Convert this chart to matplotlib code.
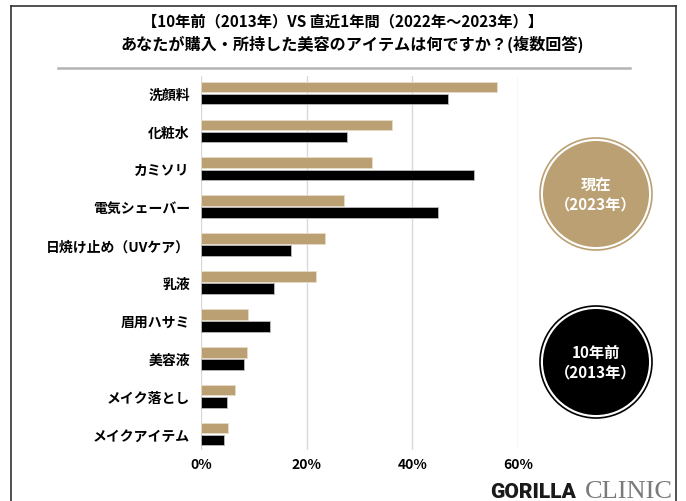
import matplotlib
matplotlib.use("Agg")
import matplotlib.pyplot as plt
from matplotlib.patches import Circle
import numpy as np

plt.rcParams['font.family'] = ['Noto Sans CJK JP', 'DejaVu Sans']

categories = ["洗顔料", "化粧水", "カミソリ", "電気シェーバー", "日焼け止め（UVケア）",
              "乳液", "眉用ハサミ", "美容液", "メイク落とし", "メイクアイテム"]
now_2023 = [56.0, 36.1, 32.4, 27.1, 23.4, 21.8, 8.9, 8.8, 6.4, 5.1]
past_2013 = [46.8, 27.6, 51.6, 44.9, 17.0, 13.9, 13.1, 8.1, 4.9, 4.3]
xticks = [0, 20, 40, 60]
xtick_labels = ["0%", "20%", "40%", "60%"]
title_lines = ["【10年前（2013年）VS 直近1年間（2022年～2023年）】",
               "あなたが購入・所持した美容のアイテムは何ですか？(複数回答)"]
legend_now = "現在\n（2023年）"
legend_past = "10年前\n（2013年）"

TAN = "#baa072"
BLACK = "#000000"

W, H = 686, 502
fig = plt.figure(figsize=(W / 100, H / 100), dpi=100)

# main axes
left, right = 201 / W, 518 / W
top_px, bot_px = 77, 451
ax = fig.add_axes([left, 1 - bot_px / H, right - left, (bot_px - top_px) / H])
y = np.arange(len(categories))
bh = 0.28
off = 0.16
ax.barh(y - off, now_2023, height=bh, color=TAN, edgecolor="#e8dcc8", linewidth=0.6, zorder=3)
ax.barh(y + off, past_2013, height=bh, color=BLACK, edgecolor="#bbbbbb", linewidth=0.6, zorder=3)
ax.set_xlim(0, 60)
ax.set_ylim(9.42, -0.45)
ax.set_yticks(y)
ax.set_yticklabels(categories, fontsize=10, fontweight="bold")
ax.set_xticks(xticks)
ax.set_xticklabels(xtick_labels, fontsize=10, fontweight="bold")
ax.tick_params(axis="y", length=0, pad=8)
ax.tick_params(axis="x", length=0, pad=5)
for s in ax.spines.values():
    s.set_visible(False)
ax.grid(axis="x", color="#d9d9d9", linewidth=1.0, zorder=0)
ax.set_axisbelow(True)

# overlay in pixel coordinates
ov2 = fig.add_axes([0, 0, 1, 1], zorder=5)
ov2.set_xlim(0, W)
ov2.set_ylim(H, 0)
ov2.axis("off")
ov2.patch.set_alpha(0)

# frame
ov2.plot([11, 11], [7, H + 5], color="#333333", lw=1.2)
ov2.plot([11, 676], [7, 7], color="#333333", lw=1.2)
ov2.plot([676, 676], [7, H + 5], color="#333333", lw=1.2)

# titles
ov2.text(343, 21, title_lines[0], ha="center", va="center", fontsize=11, fontweight="bold")
ov2.text(352, 44, title_lines[1], ha="center", va="center", fontsize=11.6, fontweight="bold")
ov2.plot([58, 630], [69, 69], color="#b3b3b3", lw=1.8)

# legend circles
for cy, col, txt in [(195, TAN, legend_now), (363, BLACK, legend_past)]:
    ov2.add_patch(Circle((596, cy), 56, facecolor="none", edgecolor=col, lw=1.2))
    ov2.add_patch(Circle((596, cy), 53, facecolor=col, edgecolor="none"))
    ov2.text(596, cy, txt, ha="center", va="center", color="white", fontsize=11,
             fontweight="bold", linespacing=1.25)

# logo
ov2.text(490, 498, "GORILLA", ha="left", va="baseline", fontsize=15, fontweight="black",
         family=["Roboto", "DejaVu Sans"], color="#1a1a1a")
ov2.text(673, 498, "CLINIC", ha="right", va="baseline", fontsize=19,
         family=["Liberation Serif", "DejaVu Serif"], color="#7a7a7a")

fig.savefig("out.png", dpi=100)
